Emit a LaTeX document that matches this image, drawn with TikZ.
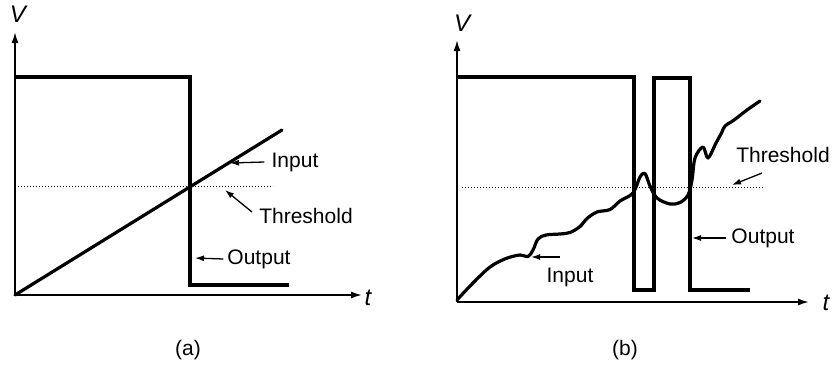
\documentclass[tikz,border=0pt]{standalone}
\usepackage{fontspec}
\setmainfont{Liberation Sans}
\usetikzlibrary{arrows.meta}
\begin{document}
\begin{tikzpicture}[x=1pt,y=-1pt,
  axis/.style={line width=1.6pt,-{Latex[length=11pt,width=7pt]}},
  wave/.style={line width=3.6pt,line join=miter},
  sig/.style={line width=3.2pt,line cap=round,line join=round},
  thresh/.style={line width=1pt,dotted},
  pointer/.style={line width=1.3pt,-{Latex[length=9pt,width=6pt]}},
  lbl/.style={font=\fontsize{21}{24}\selectfont,inner sep=1pt},
  axlbl/.style={font=\fontsize{24}{26}\selectfont\itshape,inner sep=0pt},
  panelcap/.style={font=\fontsize{21}{24}\selectfont,inner sep=0pt}]
\useasboundingbox (0,0) rectangle (832,367);

% ---------- panel (a): linear ramp input ----------
\coordinate (oa) at (15,295);
\draw[axis] (oa) -- (15,32);
\draw[axis] (oa) -- (362,295);
\node[axlbl] (Va) at (18,14) {V};
\node[axlbl] (ta) at (368,298) {t};

\draw[thresh] (18,186) -- (273,186);
\draw[wave] (15,77) -- (190,77) -- (190,285) -- (289,285);
\draw[sig] (oa) -- (282,130);

\node[lbl] (ina) at (295,162) {Input};
\coordinate (ina-p) at (230,163);
\draw[pointer] (ina.west) ++(-6,0) coordinate (ina-s) (ina-s) -- (ina-p);

\node[lbl] (tha) at (306,216) {Threshold};
\coordinate (tha-p) at (225,190);
\draw[pointer] (252,212) coordinate (tha-s) (tha-s) -- (tha-p);

\node[lbl] (outa) at (259,259) {Output};
\coordinate (outa-p) at (195,258);
\draw[pointer] (outa.west) ++(-3,0) coordinate (outa-s) (outa-s) -- (outa-p);

\node[panelcap] (capa) at (188,350) {(a)};

% ---------- panel (b): noisy input ----------
\coordinate (ob) at (457,302);
\draw[axis] (ob) -- (457,40);
\draw[axis] (ob) -- (809,302);
\node[axlbl] (Vb) at (462,23) {V};
\node[axlbl] (tb) at (826,303) {t};

\draw[thresh] (462,187) -- (765,187);
\draw[wave] (457,77) -- (634,77) -- (634,290) -- (654,290) -- (654,78)
  -- (690,78) -- (690,290) -- (750,290);
\draw[sig] plot[smooth,tension=0.55] coordinates {
  (457,300) (472,284) (490,267) (506,258.5) (520,255) (528,256.5)
  (533,250) (538,239) (546,235) (560,234) (570,232.5) (580,226.5)
  (587,218.5) (597,212) (610,209.5) (620,201) (633,193) (640,177)
  (645,173.5) (650,186) (657,198) (670,204) (680,202.5) (688,195)
  (692,180) (695,158) (703,147) (708,158) (716,143) (722,132)
  (725,126) (734,120) (747,110) (760,101)};

\node[lbl] (inb) at (570,277) {Input};
\coordinate (inb-p) at (531,257);
\draw[pointer] (560,257) coordinate (inb-s) (inb-s) -- (inb-p);

\node[lbl] (thb) at (783,155) {Threshold};
\coordinate (thb-p) at (732,185);
\draw[pointer] (762,173) coordinate (thb-s) (thb-s) -- (thb-p);

\node[lbl] (outb) at (763,238) {Output};
\coordinate (outb-p) at (692,238);
\draw[pointer] (outb.west) ++(-4,0) coordinate (outb-s) (outb-s) -- (outb-p);

\node[panelcap] (capb) at (625,350) {(b)};
\end{tikzpicture}
\end{document}
